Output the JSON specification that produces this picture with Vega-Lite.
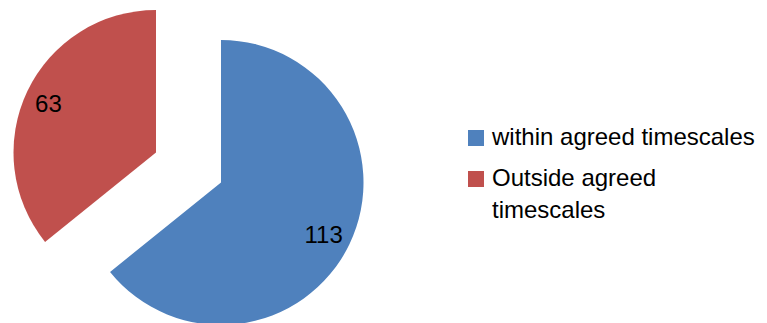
{
  "$schema": "https://vega.github.io/schema/vega-lite/v6.json",
  "width": 442,
  "height": 365,
  "padding": 0,
  "background": "white",
  "config": {
    "view": {"stroke": null},
    "font": "Liberation Sans",
    "style": {"guide-label": {"dy": -12, "lineHeight": 32}}
  },
  "data": {"values": [
    {"status": "within agreed timescales", "count": 113},
    {"status": "Outside agreed timescales", "count": 63}
  ]},
  "encoding": {
    "theta": {"field": "count", "type": "quantitative", "stack": true, "scale": {"nice": false, "zero": true}},
    "order": {"field": "count", "sort": "descending"},
    "color": {
      "field": "status", "type": "nominal",
      "scale": {"domain": ["within agreed timescales", "Outside agreed timescales"], "range": ["#4F81BD", "#C0504D"]},
      "legend": {
        "orient": "none", "legendX": 464, "legendY": 126, "title": null,
        "symbolType": "square", "symbolSize": 256, "symbolStrokeWidth": 0,
        "labelFontSize": 24, "labelFont": "Liberation Sans", "labelColor": "#000000",
        "labelOffset": 4, "labelBaseline": "top", "labelLimit": 0, "rowPadding": 17,
        "labelExpr": "datum.label == 'Outside agreed timescales' ? ['Outside agreed', 'timescales'] : datum.label"
      }
    }
  },
  "layer": [
    {
      "mark": {"type": "arc", "outerRadius": 142.5},
      "encoding": {"opacity": {"condition": {"test": "datum.status == 'within agreed timescales'", "value": 1}, "value": 0}}
    },
    {
      "mark": {"type": "arc", "outerRadius": 142.5, "xOffset": -65, "yOffset": -30},
      "encoding": {"opacity": {"condition": {"test": "datum.status == 'Outside agreed timescales'", "value": 1}, "value": 0}}
    },
    {
      "mark": {"type": "text", "radius": 116, "fontSize": 24, "font": "Liberation Sans", "dy": 3, "dx": -2},
      "encoding": {
        "text": {"field": "count", "type": "quantitative"},
        "color": {"value": "#000000"},
        "opacity": {"condition": {"test": "datum.status == 'within agreed timescales'", "value": 1}, "value": 0}
      }
    },
    {
      "mark": {"type": "text", "radius": 117, "fontSize": 24, "font": "Liberation Sans", "xOffset": -65, "yOffset": -30, "dy": 3, "dx": -2},
      "encoding": {
        "text": {"field": "count", "type": "quantitative"},
        "color": {"value": "#000000"},
        "opacity": {"condition": {"test": "datum.status == 'Outside agreed timescales'", "value": 1}, "value": 0}
      }
    }
  ]
}
